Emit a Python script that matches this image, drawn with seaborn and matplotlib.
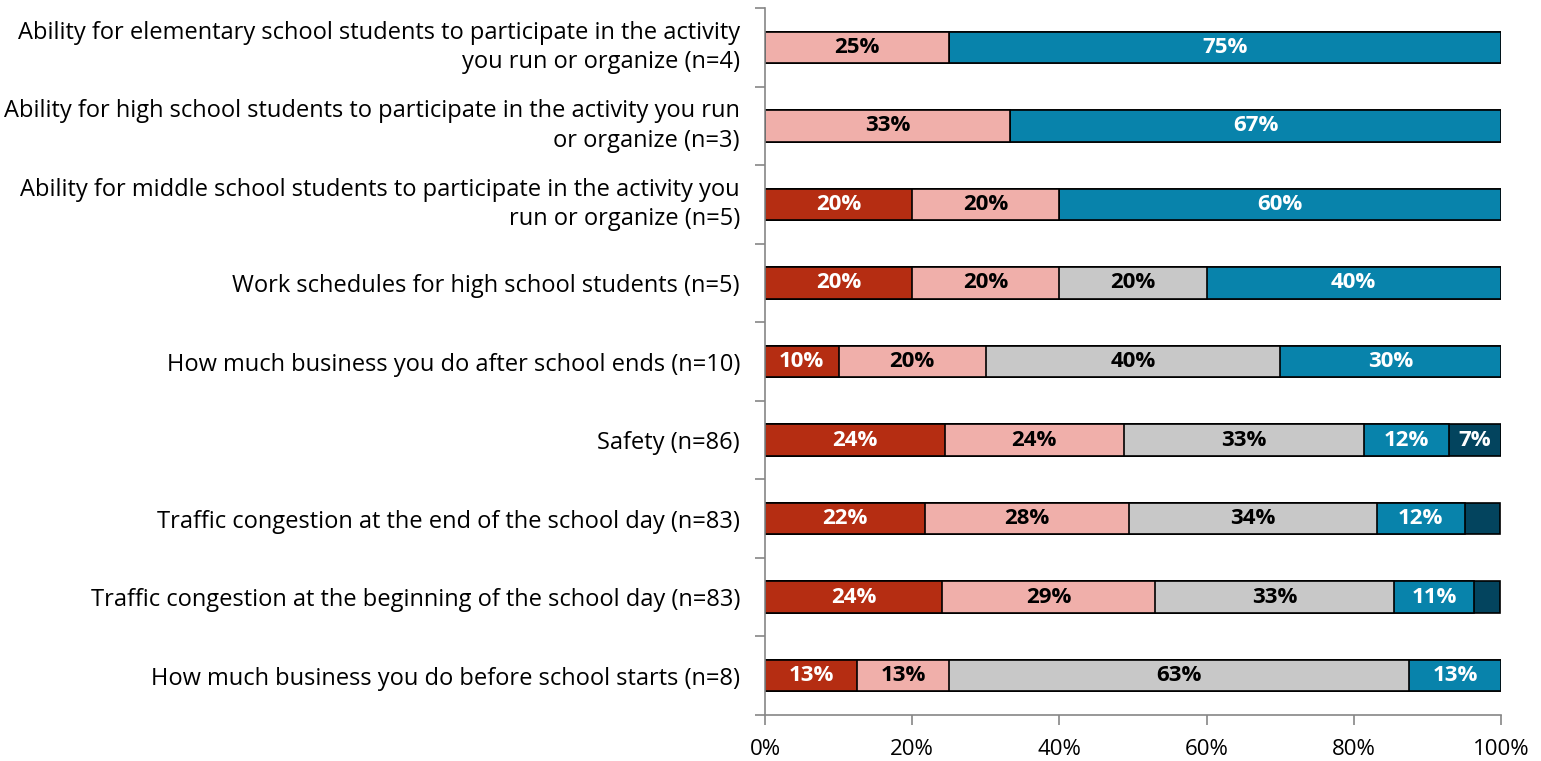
import matplotlib
matplotlib.use("Agg")
import matplotlib.pyplot as plt
from matplotlib.ticker import FixedLocator, PercentFormatter
import seaborn as sns
import pandas as pd
import numpy as np

categories = [
    "Ability for elementary school students to participate in the activity\nyou run or organize (n=4)",
    "Ability for high school students to participate in the activity you run\nor organize (n=3)",
    "Ability for middle school students to participate in the activity you\nrun or organize (n=5)",
    "Work schedules for high school students (n=5)",
    "How much business you do after school ends (n=10)",
    "Safety (n=86)",
    "Traffic congestion at the end of the school day (n=83)",
    "Traffic congestion at the beginning of the school day (n=83)",
    "How much business you do before school starts (n=8)",
]

# Share of responses per category (percent), one list per response level
level_1 = [0.0, 0.0, 20.0, 20.0, 10.0, 24.4, 21.7, 24.1, 12.5]
level_2 = [25.0, 33.3, 20.0, 20.0, 20.0, 24.4, 27.7, 28.9, 12.5]
level_3 = [0.0, 0.0, 0.0, 20.0, 40.0, 32.6, 33.7, 32.5, 62.5]
level_4 = [75.0, 66.7, 60.0, 40.0, 30.0, 11.6, 12.0, 10.8, 12.5]
level_5 = [0.0, 0.0, 0.0, 0.0, 0.0, 7.0, 4.8, 3.6, 0.0]

levels = [level_1, level_2, level_3, level_4, level_5]
colors = ["#B52D12", "#F0AFAA", "#C8C8C8", "#0883AB", "#03445E"]
text_colors = ["white", "black", "black", "white", "white"]

sns.set_theme(style="white")
plt.rcParams["font.family"] = ["Open Sans", "DejaVu Sans"]

fig = plt.figure(figsize=(15.41, 7.61), dpi=100)
ax = fig.add_axes([0.4964, 0.0604, 0.974 - 0.4964, 0.9895 - 0.0604])

cum = np.cumsum(np.array(levels), axis=0)

# Draw cumulative totals from the outermost level inward so each segment sits on top
for i in range(len(levels) - 1, -1, -1):
    df = pd.DataFrame({"category": categories, "value": cum[i]})
    sns.barplot(data=df, x="value", y="category", orient="h", color=colors[i],
                saturation=1, width=0.4, edgecolor="black", linewidth=1.2,
                ax=ax, errorbar=None)

# Segment labels
for i, vals in enumerate(levels):
    starts = cum[i] - np.array(vals)
    for j, v in enumerate(vals):
        if v >= 5:
            ax.text(starts[j] + v / 2, j, f"{int(v + 0.5)}%", ha="center", va="center",
                    color=text_colors[i], fontsize=16, fontweight="bold")

ax.set_xlim(0, 100)
ax.set_ylim(len(categories) - 0.5, -0.5)
ax.set_xlabel("")
ax.set_ylabel("")

ax.xaxis.set_major_locator(FixedLocator([0, 20, 40, 60, 80, 100]))
ax.xaxis.set_major_formatter(PercentFormatter(decimals=0))

for side in ["top", "right"]:
    ax.spines[side].set_visible(False)
for side in ["left", "bottom"]:
    ax.spines[side].set_color("#868686")
    ax.spines[side].set_linewidth(1.2)

ax.tick_params(axis="x", which="major", direction="out", length=7, width=1.2,
               color="#868686", labelsize=16, labelcolor="black", pad=10, bottom=True)
ax.tick_params(axis="y", which="major", length=0, labelsize=17, labelcolor="black", pad=18)
ax.yaxis.set_minor_locator(FixedLocator(np.arange(-0.5, len(categories), 1.0)))
ax.tick_params(axis="y", which="minor", direction="out", length=7, width=1.2,
               color="#868686", left=True)
for lbl in ax.get_yticklabels():
    lbl.set_multialignment("right")
    lbl.set_linespacing(1.3)
    if "\n" in lbl.get_text():
        lbl.set_verticalalignment("center")

fig.savefig("out.png", dpi=100)
